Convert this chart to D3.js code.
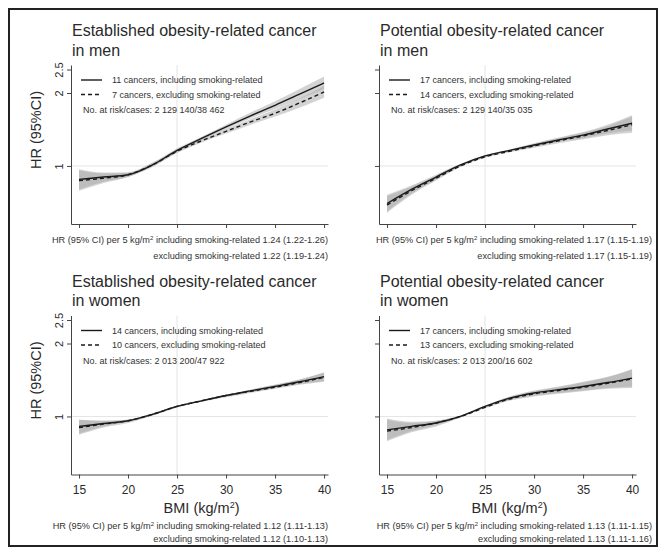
<!DOCTYPE html>
<html>
<head>
<meta charset="utf-8">
<script src="https://cdn.jsdelivr.net/npm/d3@7"></script>
<style>
  body { margin: 0; background: #fff; }
  svg { font-family: "Liberation Sans", Arial, sans-serif; }
</style>
</head>
<body>
<div id="chart"></div>
<script>
// BMI grid shared by every panel
var bmi = [15, 17.5, 20, 22.5, 25, 27.5, 30, 32.5, 35, 37.5, 40];
var xTicks = [15, 20, 25, 30, 35, 40];
var yTicks = [1, 2, 2.5];

// established, men
var estMenInc   = [0.88, 0.90, 0.92, 1.01, 1.16, 1.30, 1.45, 1.61, 1.78, 1.98, 2.20];
var estMenIncLo = [0.80, 0.86, 0.90, 1.00, 1.14, 1.28, 1.42, 1.57, 1.72, 1.89, 2.08];
var estMenIncHi = [0.97, 0.94, 0.94, 1.03, 1.18, 1.32, 1.48, 1.66, 1.85, 2.08, 2.34];
var estMenExc   = [0.87, 0.89, 0.92, 1.01, 1.15, 1.27, 1.39, 1.52, 1.65, 1.82, 2.02];
var estMenExcLo = [0.79, 0.85, 0.90, 0.99, 1.13, 1.25, 1.36, 1.48, 1.60, 1.74, 1.91];
var estMenExcHi = [0.96, 0.93, 0.94, 1.03, 1.17, 1.29, 1.42, 1.56, 1.71, 1.90, 2.14];

// potential, men
var potMenInc   = [0.70, 0.80, 0.90, 1.01, 1.10, 1.16, 1.22, 1.28, 1.34, 1.42, 1.50];
var potMenIncLo = [0.65, 0.77, 0.88, 1.00, 1.09, 1.15, 1.20, 1.26, 1.30, 1.36, 1.40];
var potMenIncHi = [0.76, 0.83, 0.92, 1.02, 1.11, 1.17, 1.24, 1.31, 1.38, 1.48, 1.62];
var potMenExc   = [0.69, 0.79, 0.89, 1.00, 1.09, 1.15, 1.21, 1.27, 1.33, 1.40, 1.48];
var potMenExcLo = [0.64, 0.76, 0.87, 0.99, 1.08, 1.14, 1.19, 1.24, 1.29, 1.34, 1.37];
var potMenExcHi = [0.75, 0.82, 0.91, 1.01, 1.10, 1.16, 1.23, 1.30, 1.37, 1.46, 1.60];

// established, women
var estWomInc   = [0.91, 0.935, 0.96, 1.02, 1.10, 1.16, 1.22, 1.275, 1.33, 1.39, 1.46];
var estWomIncLo = [0.85, 0.91, 0.95, 1.01, 1.09, 1.15, 1.21, 1.26, 1.31, 1.36, 1.40];
var estWomIncHi = [0.97, 0.96, 0.97, 1.03, 1.11, 1.17, 1.23, 1.29, 1.35, 1.42, 1.52];
var estWomExc   = [0.90, 0.93, 0.96, 1.02, 1.10, 1.16, 1.22, 1.27, 1.32, 1.38, 1.45];
var estWomExcLo = [0.84, 0.90, 0.94, 1.01, 1.09, 1.15, 1.20, 1.25, 1.30, 1.35, 1.39];
var estWomExcHi = [0.97, 0.96, 0.97, 1.03, 1.11, 1.17, 1.23, 1.29, 1.35, 1.42, 1.52];

// potential, women
var potWomInc   = [0.88, 0.91, 0.94, 1.00, 1.10, 1.19, 1.25, 1.29, 1.33, 1.38, 1.44];
var potWomIncLo = [0.80, 0.87, 0.92, 0.99, 1.09, 1.17, 1.22, 1.25, 1.28, 1.31, 1.33];
var potWomIncHi = [0.98, 0.95, 0.96, 1.01, 1.11, 1.21, 1.28, 1.33, 1.39, 1.46, 1.56];
var potWomExc   = [0.87, 0.90, 0.94, 1.00, 1.09, 1.18, 1.24, 1.28, 1.32, 1.37, 1.43];
var potWomExcLo = [0.79, 0.86, 0.91, 0.99, 1.08, 1.16, 1.21, 1.24, 1.27, 1.30, 1.31];
var potWomExcHi = [0.97, 0.94, 0.96, 1.01, 1.10, 1.20, 1.27, 1.32, 1.38, 1.45, 1.57];

var titles = [
    ["Established obesity-related cancer", "in men"],
    ["Potential obesity-related cancer", "in men"],
    ["Established obesity-related cancer", "in women"],
    ["Potential obesity-related cancer", "in women"]
];
var legendInc = ["11 cancers, including smoking-related", "17 cancers, including smoking-related",
                 "14 cancers, including smoking-related", "17 cancers, including smoking-related"];
var legendExc = ["7 cancers, excluding smoking-related", "14 cancers, excluding smoking-related",
                 "10 cancers, excluding smoking-related", "13 cancers, excluding smoking-related"];
var atRisk = ["No. at risk/cases: 2 129 140/38 462", "No. at risk/cases: 2 129 140/35 035",
              "No. at risk/cases: 2 013 200/47 922", "No. at risk/cases: 2 013 200/16 602"];
var hrInc = ["1.24 (1.22-1.26)", "1.17 (1.15-1.19)", "1.12 (1.11-1.13)", "1.13 (1.11-1.15)"];
var hrExc = ["1.22 (1.19-1.24)", "1.17 (1.15-1.19)", "1.12 (1.10-1.13)", "1.13 (1.11-1.16)"];

var W = 660, H = 551;
var svg = d3.select("#chart").append("svg")
    .attr("width", W)
    .attr("height", H);

svg.append("rect")
    .attr("x", 9).attr("y", 9)
    .attr("width", W - 12).attr("height", H - 14)
    .attr("fill", "none")
    .attr("stroke", "#222")
    .attr("stroke-width", 2);

var panels = [
    {inc: estMenInc, incLo: estMenIncLo, incHi: estMenIncHi, exc: estMenExc, excLo: estMenExcLo, excHi: estMenExcHi},
    {inc: potMenInc, incLo: potMenIncLo, incHi: potMenIncHi, exc: potMenExc, excLo: potMenExcLo, excHi: potMenExcHi},
    {inc: estWomInc, incLo: estWomIncLo, incHi: estWomIncHi, exc: estWomExc, excLo: estWomExcLo, excHi: estWomExcHi},
    {inc: potWomInc, incLo: potWomIncLo, incHi: potWomIncHi, exc: potWomExc, excLo: potWomExcLo, excHi: potWomExcHi}
];

var drawPanel = function(p, i) {
    var col = i % 2, row = Math.floor(i / 2);
    var ox = col * 308, oy = row * 250.5;
    var left = 71 + ox, right = 328 + ox;
    var top = 65 + oy, bottom = 224 + oy;
    var footRight = col ? 652 : 328;

    var x = d3.scaleLinear().domain([14.18, 40.4]).range([left, right]);
    var y = d3.scaleLog().domain([0.576, 2.61]).range([bottom, top]);

    var g = svg.append("g");

    // titles
    g.selectAll("text.title")
        .data(titles[i])
      .enter().append("text")
        .attr("class", "title")
        .attr("x", 72 + ox)
        .attr("y", function(d, j) { return 36 + oy + j * 19.5; })
        .attr("fill", "#2a2a2a")
        .style("font-size", "16px")
        .text(function(d) { return d; });

    // reference lines
    g.append("line")
        .attr("x1", left).attr("x2", right)
        .attr("y1", y(1)).attr("y2", y(1))
        .attr("stroke", "#e4e4e4");
    g.append("line")
        .attr("x1", x(25)).attr("x2", x(25))
        .attr("y1", top).attr("y2", bottom)
        .attr("stroke", "#e4e4e4");

    // confidence bands
    var area = function(lo, hi) {
        return d3.area()
            .x(function(d, k) { return x(bmi[k]); })
            .y0(function(d, k) { return y(lo[k]); })
            .y1(function(d, k) { return y(hi[k]); })
            .curve(d3.curveMonotoneX)(bmi);
    };
    g.append("path").attr("d", area(p.incLo, p.incHi))
        .attr("fill", "#a8a8a8").attr("fill-opacity", 0.5);
    g.append("path").attr("d", area(p.excLo, p.excHi))
        .attr("fill", "#a8a8a8").attr("fill-opacity", 0.5);

    var line = d3.line()
        .x(function(d, k) { return x(bmi[k]); })
        .y(function(d) { return y(d); })
        .curve(d3.curveMonotoneX);
    g.append("path").attr("d", line(p.inc))
        .attr("fill", "none").attr("stroke", "#1a1a1a").attr("stroke-width", 1.4);
    g.append("path").attr("d", line(p.exc))
        .attr("fill", "none").attr("stroke", "#1a1a1a").attr("stroke-width", 1.4)
        .attr("stroke-dasharray", "4,3");

    // axes
    var xAxis = d3.axisBottom(x)
        .tickValues(xTicks)
        .tickSize(4)
        .tickSizeOuter(0)
        .tickPadding(7)
        .tickFormat(row ? d3.format("d") : function() { return ""; });
    var xg = g.append("g")
        .attr("transform", "translate(0," + bottom + ")")
        .call(xAxis);
    xg.selectAll("text").style("font-size", "12px").attr("fill", "#2a2a2a");

    var yAxis = d3.axisLeft(y)
        .tickValues(yTicks)
        .tickSize(4)
        .tickSizeOuter(0)
        .tickFormat(col ? function() { return ""; } : function(d) { return String(d); });
    var yg = g.append("g")
        .attr("transform", "translate(" + left + ",0)")
        .call(yAxis);
    yg.selectAll("text")
        .attr("transform", "rotate(-90)")
        .attr("x", 0)
        .attr("y", -8)
        .attr("dy", 0)
        .style("text-anchor", "middle")
        .style("font-size", "11px")
        .attr("fill", "#2a2a2a");
    g.selectAll(".domain, .tick line").attr("stroke", "#444");

    // legend
    var lx = left;
    g.append("line").attr("x1", lx + 10).attr("x2", lx + 31)
        .attr("y1", 80 + oy).attr("y2", 80 + oy)
        .attr("stroke", "#1a1a1a").attr("stroke-width", 1.4);
    g.append("line").attr("x1", lx + 10).attr("x2", lx + 31)
        .attr("y1", 94.5 + oy).attr("y2", 94.5 + oy)
        .attr("stroke", "#1a1a1a").attr("stroke-width", 1.4)
        .attr("stroke-dasharray", "4,3");
    var legTxt = [
        {t: legendInc[i], x: lx + 41, y: 83 + oy},
        {t: legendExc[i], x: lx + 41, y: 97.5 + oy},
        {t: atRisk[i], x: lx + 12, y: 113 + oy}
    ];
    g.selectAll("text.leg")
        .data(legTxt)
      .enter().append("text")
        .attr("class", "leg")
        .attr("x", function(d) { return d.x; })
        .attr("y", function(d) { return d.y; })
        .attr("fill", "#333")
        .style("font-size", "9px")
        .text(function(d) { return d.t; });

    // footnotes
    var fy = row ? [529, 542] : [243, 259];
    var f1 = g.append("text")
        .attr("x", footRight).attr("y", fy[0])
        .attr("text-anchor", "end")
        .attr("fill", "#333")
        .style("font-size", "9.2px");
    f1.append("tspan").text("HR (95% CI) per 5 kg/m");
    f1.append("tspan").attr("dy", -3).style("font-size", "6px").text("2");
    f1.append("tspan").attr("dy", 3).text(" including smoking-related " + hrInc[i]);
    g.append("text")
        .attr("x", footRight).attr("y", fy[1])
        .attr("text-anchor", "end")
        .attr("fill", "#333")
        .style("font-size", "9.2px")
        .text("excluding smoking-related " + hrExc[i]);

    // axis titles
    if (row) {
        var bt = g.append("text")
            .attr("x", (x(15) + x(40)) / 2)
            .attr("y", 513)
            .attr("text-anchor", "middle")
            .attr("fill", "#2a2a2a")
            .style("font-size", "14.5px");
        bt.append("tspan").text("BMI (kg/m");
        bt.append("tspan").attr("dy", -5).style("font-size", "9px").text("2");
        bt.append("tspan").attr("dy", 5).text(")");
    }
    if (!col) {
        g.append("text")
            .attr("transform", "translate(41," + (130 + oy) + ") rotate(-90)")
            .attr("text-anchor", "middle")
            .attr("fill", "#2a2a2a")
            .style("font-size", "14.5px")
            .text("HR (95%CI)");
    }
};

panels.forEach(drawPanel);
</script>
</body>
</html>
